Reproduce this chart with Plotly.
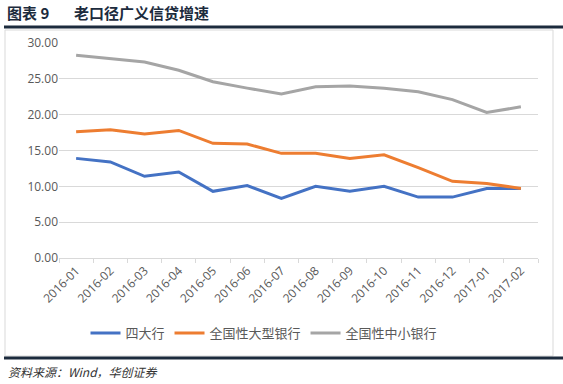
import plotly.graph_objects as go

months = ["2016-01", "2016-02", "2016-03", "2016-04", "2016-05", "2016-06", "2016-07",
          "2016-08", "2016-09", "2016-10", "2016-11", "2016-12", "2017-01", "2017-02"]
big_four = [13.9, 13.4, 11.4, 12.0, 9.3, 10.1, 8.3, 10.0, 9.3, 10.0, 8.5, 8.5, 9.7, 9.7]
large_banks = [17.6, 17.9, 17.3, 17.8, 16.0, 15.9, 14.6, 14.6, 13.9, 14.4, 12.6, 10.7, 10.4, 9.7]
small_mid_banks = [28.3, 27.8, 27.35, 26.2, 24.6, 23.7, 22.9, 23.9, 24.0, 23.7, 23.2, 22.1, 20.3, 21.1]

names = ["四大行", "全国性大型银行", "全国性中小银行"]
colors = ["#4472C4", "#ED7D31", "#A5A5A5"]

CJK = "Noto Sans CJK SC"
fig = go.Figure()
for name, vals, col in zip(names, [big_four, large_banks, small_mid_banks], colors):
    fig.add_trace(go.Scatter(x=months, y=vals, name=name, mode="lines",
                             line=dict(color=col, width=3)))

L, R, T, B = 59, 538, 43, 258
W, H = 563, 384
def px(x):
    return (x - L) / (R - L)
def py(y):
    return (B - y) / (B - T)

fig.update_layout(
    width=W, height=H,
    margin=dict(l=L, r=W - R, t=T, b=H - B),
    paper_bgcolor="white", plot_bgcolor="white",
    font=dict(family=CJK, color="#595959", size=11),
    showlegend=True,
    legend=dict(orientation="h", x=px(264), xanchor="center", y=py(333), yanchor="middle",
                font=dict(size=13, color="#595959", family=CJK), itemwidth=30,
                bgcolor="rgba(0,0,0,0)"),
    xaxis=dict(type="category", tickangle=-45, ticks="outside", tickson="boundaries",
               ticklen=4, tickcolor="#d9d9d9", showline=True, linecolor="#d9d9d9",
               showgrid=False, tickfont=dict(family="Open Sans", size=12, color="#595959"),
               range=[-0.5, 13.5]),
    yaxis=dict(range=[0, 30], dtick=5, tickformat=".2f", showgrid=True, gridcolor="#d9d9d9",
               zeroline=False, showline=False, ticks="",
               tickfont=dict(family="Open Sans", size=12, color="#595959")),
    shapes=[
        dict(type="rect", xref="paper", yref="paper", x0=px(5), x1=px(553), y0=py(356), y1=py(30),
             line=dict(color="#d9d9d9", width=1), layer="below"),
        dict(type="line", xref="paper", yref="paper", x0=px(4), x1=px(563), y0=py(27), y1=py(27),
             line=dict(color="#1c2b3d", width=3)),
        dict(type="line", xref="paper", yref="paper", x0=px(4), x1=px(563), y0=py(358), y1=py(358),
             line=dict(color="#1c2b3d", width=3)),
    ],
    annotations=[
        dict(text="<b>图表 9</b>", xref="paper", yref="paper", x=px(5), y=py(12),
             xanchor="left", yanchor="middle", showarrow=False,
             font=dict(family=CJK, size=15, color="#1c2b3d")),
        dict(text="<b>老口径广义信贷增速</b>", xref="paper", yref="paper", x=px(72), y=py(12),
             xanchor="left", yanchor="middle", showarrow=False,
             font=dict(family=CJK, size=15, color="#1c2b3d")),
        dict(text="<i>资料来源：Wind，华创证券</i>", xref="paper", yref="paper", x=px(6), y=py(371),
             xanchor="left", yanchor="middle", showarrow=False,
             font=dict(family=CJK, size=12, color="#333333")),
    ],
)

fig.write_html("out.html", config={"displayModeBar": False},
               post_script="document.body.style.margin='0';document.body.style.overflow='hidden';")
